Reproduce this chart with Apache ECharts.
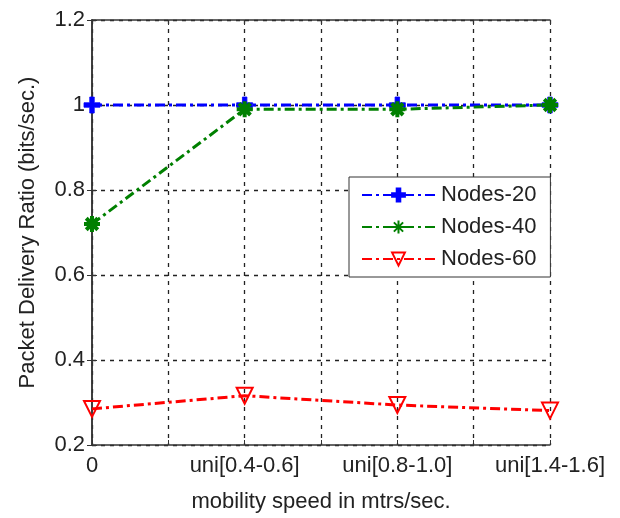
<!DOCTYPE html>
<html>
<head>
<meta charset="utf-8">
<script src="https://cdn.jsdelivr.net/npm/echarts@6/dist/echarts.min.js"></script>
<style>
    html, body { margin: 0; padding: 0; background: #fff; }
    #pdr-chart { width: 620px; height: 518px; }
</style>
</head>
<body>
<div id="pdr-chart"></div>
<script>
const speedLabels = ["0", "uni[0.4-0.6]", "uni[0.8-1.0]", "uni[1.4-1.6]"];
const nodes20 = [1.0, 1.0, 1.0, 1.0];
const nodes40 = [0.72, 0.99, 0.99, 1.0];
const nodes60 = [0.285, 0.316, 0.294, 0.281];
const yTicks = [0.2, 0.4, 0.6, 0.8, 1.0, 1.2];

const FONT = "Liberation Sans";
const TEXT = "#222";

function toPoints(values) {
    return values.map(function (v, i) { return [i, v]; });
}

function lineSeries(name, values, color, symbol, size, itemStyle) {
    return {
        name: name,
        type: "line",
        data: toPoints(values),
        color: color,
        symbol: symbol,
        symbolSize: size,
        showAllSymbol: true,
        lineStyle: { color: color, width: 3, type: [10, 4, 3, 4] },
        itemStyle: itemStyle,
        emphasis: { disabled: true },
        z: 3,
    };
}

const plusSymbol = "path://M-1.4,-5H1.4V-1.4H5V1.4H1.4V5H-1.4V1.4H-5V-1.4H-1.4Z";
const starSymbol = "path://M0,-5L0,5M-5,0L5,0M-3.6,-3.6L3.6,3.6M-3.6,3.6L3.6,-3.6";
const triSymbol = "path://M-5,-4.2L5,-4.2L0,4.6Z";

const axisLine = { show: true, lineStyle: { color: "#333", width: 1.5 } };
const axisTick = { show: true, inside: true, length: 5, lineStyle: { color: "#333" } };

var myChart = echarts.init(document.getElementById("pdr-chart"));
option = {
    backgroundColor: "#fff",
    animation: false,
    textStyle: { fontFamily: FONT },
    grid: { left: 92, right: 70, top: 20, bottom: 64 },
    legend: {
        left: 349,
        top: 177,
        orient: "vertical",
        data: ["Nodes-20", "Nodes-40", "Nodes-60"],
        backgroundColor: "#fff",
        borderColor: "#333",
        borderWidth: 1,
        padding: [7, 14, 7, 12],
        itemWidth: 73,
        itemHeight: 16,
        itemGap: 10,
        textStyle: { fontFamily: FONT, fontSize: 22, color: TEXT, padding: [0, 0, 0, 1] },
    },
    xAxis: [
        {
            type: "value",
            min: 0,
            max: 3,
            interval: 0.5,
            name: "mobility speed in mtrs/sec.",
            nameLocation: "middle",
            nameGap: 46,
            nameTextStyle: { fontFamily: FONT, fontSize: 22, color: TEXT },
            axisLine: axisLine,
            axisTick: axisTick,
            axisLabel: {
                fontFamily: FONT,
                fontSize: 22,
                color: TEXT,
                margin: 10,
                showMaxLabel: true,
                showMinLabel: true,
                formatter: function (v) {
                    return Number.isInteger(v) ? speedLabels[v] : "";
                },
            },
            splitLine: { show: true, lineStyle: { color: "#222", type: [4, 5], width: 1.3 } },
        },
        {
            type: "value",
            position: "top",
            min: 0,
            max: 3,
            interval: 0.5,
            axisLine: axisLine,
            axisTick: axisTick,
            axisLabel: { show: false },
            splitLine: { show: false },
        },
    ],
    yAxis: [
        {
            type: "value",
            min: yTicks[0],
            max: yTicks[yTicks.length - 1],
            interval: 0.2,
            name: "Packet Delivery Ratio (bits/sec.)",
            nameLocation: "middle",
            nameGap: 53,
            nameTextStyle: { fontFamily: FONT, fontSize: 22, color: TEXT },
            axisLine: axisLine,
            axisTick: axisTick,
            axisLabel: {
                fontFamily: FONT,
                fontSize: 22,
                color: TEXT,
                margin: 7,
                formatter: function (v) { return String(+v.toFixed(1)); },
            },
            splitLine: { show: true, lineStyle: { color: "#222", type: [4, 5], width: 1.3 } },
        },
        {
            type: "value",
            position: "right",
            min: yTicks[0],
            max: yTicks[yTicks.length - 1],
            interval: 0.2,
            axisLine: axisLine,
            axisTick: axisTick,
            axisLabel: { show: false },
            splitLine: { show: false },
        },
    ],
    series: [
        lineSeries("Nodes-20", nodes20, "#0000ff", plusSymbol, 16,
            { color: "#0000ff", borderColor: "#0000ff", borderWidth: 0.8 }),
        lineSeries("Nodes-40", nodes40, "#008000", starSymbol, 16,
            { color: "#008000", borderColor: "#008000", borderWidth: 4 }),
        lineSeries("Nodes-60", nodes60, "#ff0000", triSymbol, 16,
            { color: "rgba(255,255,255,0)", borderColor: "#ff0000", borderWidth: 2 }),
    ],
};
// use configuration item and data specified to show chart
myChart.setOption(option, true);
</script>
</body>
</html>
